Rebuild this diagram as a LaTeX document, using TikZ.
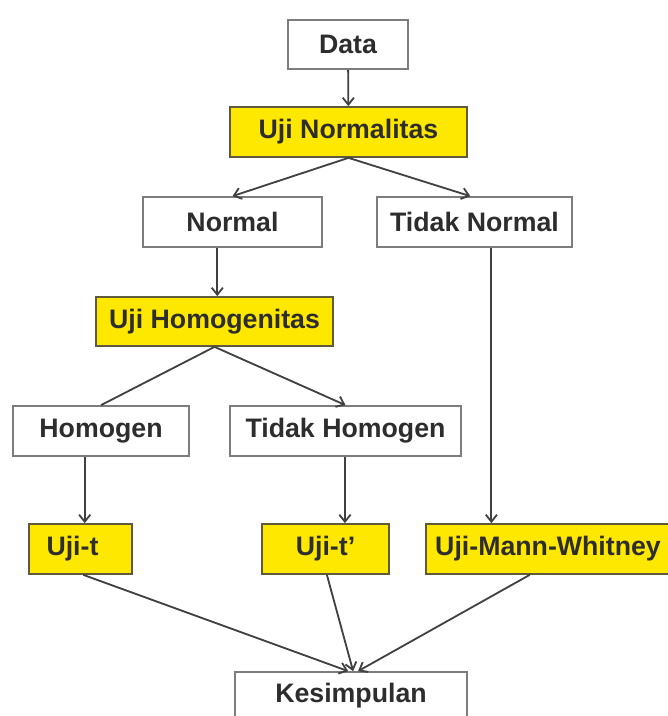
\documentclass[tikz,border=0pt]{standalone}
\usepackage{fontspec}
\setmainfont{Liberation Sans}
\usepackage{tikz}
\usetikzlibrary{arrows.meta}
\definecolor{flowyellow}{RGB}{255,232,0}
\definecolor{flowtext}{RGB}{45,45,45}
\definecolor{flowline}{RGB}{65,65,65}
\definecolor{flowedge}{RGB}{125,125,125}
\definecolor{flowdark}{RGB}{95,90,60}

\begin{document}
\begin{tikzpicture}[x=0.025cm, y=-0.025cm,
    box/.style={draw=flowedge, line width=1.2pt, fill=white, inner sep=0pt,
        minimum height=1.25cm, text=flowtext,
        font=\fontsize{19}{22}\selectfont\bfseries},
    ybox/.style={box, draw=flowdark, fill=flowyellow},
    arr/.style={draw=flowline, line width=1.3pt, -{Straight Barb[length=5pt,width=8pt]}},
    link/.style={draw=flowline, line width=1.3pt}]
    \useasboundingbox (0,0) rectangle (667,716);

    % Start
    \node[box, minimum width=3cm, minimum height=1.225cm] (data) at (348,44.5) {Data};
    \node[ybox, minimum width=5.925cm] (unorm) at (348.5,132) {Uji Normalitas};

    % Normality branches
    \node[box, minimum width=4.475cm] (normal) at (232.5,222) {Normal};
    \node[box, minimum width=4.875cm] (tnormal) at (474.5,222) {Tidak Normal};
    \node[ybox, minimum width=5.925cm, minimum height=1.225cm] (uhomog) at (214.5,321.5) {Uji Homogenitas};

    % Homogeneity branches
    \node[box, minimum width=4.4cm] (homogen) at (101,431) {Homogen};
    \node[box, minimum width=5.775cm] (thomogen) at (345.5,431) {Tidak Homogen};

    % Tests
    \node[ybox, minimum width=2.575cm] (ujit) at (80.5,549) {Uji-t\hspace*{0.4cm}};
    \node[ybox, minimum width=3.175cm] (ujit2) at (325.5,549) {Uji-t'};
    \node[ybox, minimum width=6.1cm] (umw) at (548,549) {Uji-Mann-Whitney};

    % End
    \node[box, minimum width=5.8cm, minimum height=1.2cm] (kes) at (351,696) {Kesimpulan};

    % Connectors
    \draw[arr] (data) -- (unorm);
    \draw[arr] (unorm.south) -- (normal.north);
    \draw[arr] (unorm.south) -- ([xshift=-3pt]tnormal.north);
    \draw[arr] ([xshift=2pt]uhomog.north |- normal.south) -- ([xshift=2pt]uhomog.north);
    \draw[link] (uhomog.south) -- (homogen.north);
    \draw[arr] (uhomog.south) -- (thomogen.north);
    \draw[arr] ([xshift=3pt]ujit.north |- homogen.south) -- ([xshift=3pt]ujit.north);
    \draw[arr] ([xshift=-0.4pt]thomogen.south) -- ([xshift=-0.4pt]thomogen.south |- ujit2.north);
    \draw[arr] ([xshift=12pt]tnormal.south) -- ([xshift=12pt]tnormal.south |- umw.north);
    \draw[arr] ([xshift=2pt]ujit.south) -- ([xshift=-2pt]kes.north);
    \draw[arr] ([xshift=1pt]ujit2.south) -- ([xshift=1.5pt]kes.north);
    \draw[arr] ([xshift=-13pt]umw.south) -- ([xshift=5pt]kes.north);
\end{tikzpicture}
\end{document}
